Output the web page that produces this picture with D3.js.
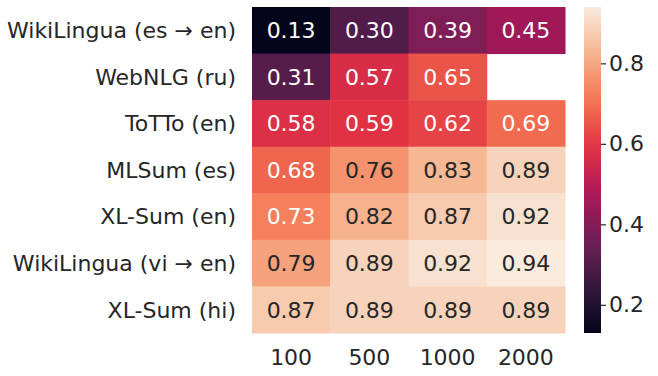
<!DOCTYPE html>
<html>
<head>
<meta charset="utf-8">
<script src="https://cdn.jsdelivr.net/npm/d3@7"></script>
<style>
  body { margin: 0; background: #fff; }
  svg { display: block; font-family: "DejaVu Sans", sans-serif; }
</style>
</head>
<body>
<svg id="chart" width="658" height="376"></svg>
<script>
const rows = ['WikiLingua (es → en)', 'WebNLG (ru)', 'ToTTo (en)', 'MLSum (es)',
  'XL-Sum (en)', 'WikiLingua (vi → en)', 'XL-Sum (hi)'];
const cols = ['100', '500', '1000', '2000'];
const values = [
  [0.13, 0.30, 0.39, 0.45],
  [0.31, 0.57, 0.65, null],
  [0.58, 0.59, 0.62, 0.69],
  [0.68, 0.76, 0.83, 0.89],
  [0.73, 0.82, 0.87, 0.92],
  [0.79, 0.89, 0.92, 0.94],
  [0.87, 0.89, 0.89, 0.89]
];
const cbarTicks = [0.2, 0.4, 0.6, 0.8];

// rocket colormap, sampled
const rocketStops = ['#03051a', '#35193e', '#701f57', '#ad1759', '#e13342', '#f37651', '#f6b48f', '#faebdd'];
const rocket = d3.scaleLinear()
  .domain(d3.range(rocketStops.length).map(i => i / (rocketStops.length - 1)))
  .range(rocketStops)
  .interpolate(d3.interpolateRgb);

const FS = 22;
const svg = d3.select('#chart');
const plotL = 252, plotT = 7, plotR = 565, plotB = 333;

const flat = values.flat().filter(v => v != null);
const vmin = d3.min(flat), vmax = d3.max(flat);
const norm = d3.scaleLinear().domain([vmin, vmax]).range([0, 1]).clamp(true);
const color = v => rocket(norm(v));

const x = d3.scaleBand().domain(cols).range([plotL, plotR]);
const y = d3.scaleBand().domain(rows).range([plotT, plotB]);

const cells = [];
values.forEach((r, i) => r.forEach((v, j) => {
  if (v != null) cells.push({ row: rows[i], col: cols[j], v });
}));

const g = svg.append('g');
g.selectAll('rect').data(cells).enter().append('rect')
    .attr('x', d => x(d.col)).attr('y', d => y(d.row))
    .attr('width', x.bandwidth() + 0.5).attr('height', y.bandwidth() + 0.5)
    .attr('fill', d => color(d.v));

function textColor(c) {
  const rgb = d3.rgb(c);
  const lin = [rgb.r, rgb.g, rgb.b].map(u => {
    u /= 255;
    return u <= 0.03928 ? u / 12.92 : Math.pow((u + 0.055) / 1.055, 2.4);
  });
  const lum = 0.2126 * lin[0] + 0.7152 * lin[1] + 0.0722 * lin[2];
  return lum > 0.408 ? '#262626' : '#ffffff';
}

g.selectAll('text.annot').data(cells).enter().append('text')
    .attr('class', 'annot')
    .attr('x', d => x(d.col) + x.bandwidth() / 2)
    .attr('y', d => y(d.row) + y.bandwidth() / 2)
    .attr('dy', '0.36em')
    .attr('text-anchor', 'middle')
    .attr('font-size', FS)
    .attr('fill', d => textColor(color(d.v)))
    .text(d => d.v.toFixed(2));

// axes labels
svg.selectAll('text.ylab').data(rows).enter().append('text')
    .attr('class', 'ylab')
    .attr('x', 236)
    .attr('y', d => y(d) + y.bandwidth() / 2)
    .attr('dy', '0.36em')
    .attr('text-anchor', 'end')
    .attr('font-size', FS)
    .attr('fill', '#262626')
    .text(d => d);

svg.selectAll('text.xlab').data(cols).enter().append('text')
    .attr('class', 'xlab')
    .attr('x', d => x(d) + x.bandwidth() / 2)
    .attr('y', 357)
    .attr('dy', '0.36em')
    .attr('text-anchor', 'middle')
    .attr('font-size', FS)
    .attr('fill', '#262626')
    .text(d => d);

// colorbar
const cbX = 584, cbW = 17;
const cbScale = d3.scaleLinear().domain([vmin, vmax]).range([plotB, plotT]);
const defs = svg.append('defs');
const grad = defs.append('linearGradient').attr('id', 'cbar')
    .attr('x1', 0).attr('y1', 1).attr('x2', 0).attr('y2', 0);
d3.range(0, 1.0001, 0.05).forEach(t => {
  grad.append('stop').attr('offset', t).attr('stop-color', rocket(t));
});
svg.append('rect')
    .attr('x', cbX).attr('y', plotT)
    .attr('width', cbW).attr('height', plotB - plotT)
    .attr('fill', 'url(#cbar)');

const cbAxis = svg.append('g')
    .attr('transform', `translate(${cbX + cbW},0)`)
    .call(d3.axisRight(cbScale).tickValues(cbarTicks).tickSize(5).tickPadding(3).tickFormat(d3.format('.1f')));
cbAxis.select('.domain').remove();
cbAxis.selectAll('line').attr('stroke', '#262626').attr('stroke-width', 1.2);
cbAxis.selectAll('text').attr('font-size', FS).attr('fill', '#262626')
    .attr('font-family', '"DejaVu Sans", sans-serif');
</script>
</body>
</html>
